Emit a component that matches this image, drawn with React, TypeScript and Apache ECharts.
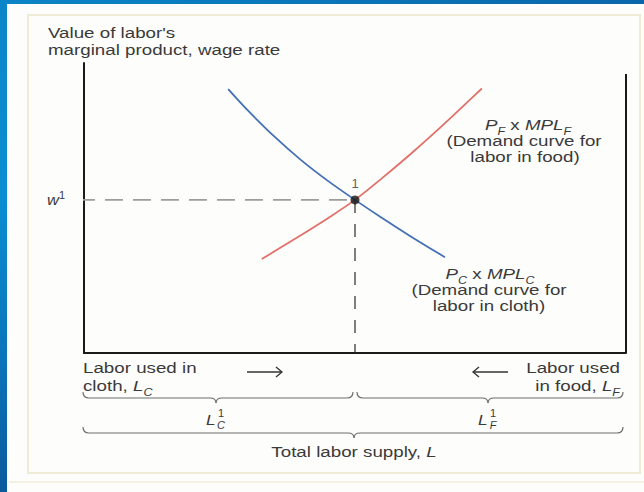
import React, { useEffect, useRef } from "react";
import * as echarts from "echarts";

// ---- data (labor units 0..100 on the horizontal axis, wage index 0..100 on the vertical) ----
const X_MIN = 0;
const X_MAX = 100;
const Y_MIN = 0;
const Y_MAX = 100;
const LC1 = 50; // labor used in cloth at equilibrium
const W1 = 52.8; // equilibrium wage
const RIGHT_AXIS_TOP = 96.2; // top of the food-origin axis
const W_TICK_START = -1.3; // dashed wage line starts a little left of the axis

// P_F x MPL_F (demand for labor in food, measured from the right)
const foodX = [32.8, 35, 40, 45, 50, 55, 60, 65, 70, 73.4];
const foodY = [32.4, 34.9, 40.6, 46.5, 52.8, 60.3, 68.2, 76.5, 85.2, 91.2];
// P_C x MPL_C (demand for labor in cloth)
const clothX = [26.6, 30, 35, 40, 45, 50, 55, 60, 65, 66.6];
const clothY = [91, 84.1, 74.85, 66.6, 59.35, 52.8, 46.55, 40.55, 34.8, 33.0];

const AXIS_TITLE = ["Value of labor's", "marginal product, wage rate"];
const FOOD_LABEL = ["{i|P}{sub|F}{n| x }{i|MPL}{sub|F}", "(Demand curve for", "labor in food)"];
const CLOTH_LABEL = ["{i|P}{sub|C}{n| x }{i|MPL}{sub|C}", "(Demand curve for", "labor in cloth)"];
const LEFT_FOOT = ["Labor used in", "cloth, {i|L}{sub|C}"];
const RIGHT_FOOT = ["Labor used", "in food, {i|L}{sub|F}"];
const TOTAL_LABEL = "Total labor supply, {i|L}";

const FONT = "'Liberation Sans', Arial, Helvetica, sans-serif";
const TEXT_COLOR = "#3a3a3a";
const SX = 1.25;
const FS = 15;

const RICH: any = {
  n: { fontSize: FS, fontFamily: FONT, fill: TEXT_COLOR, color: TEXT_COLOR },
  i: { fontSize: FS, fontFamily: FONT, fontStyle: "italic", fill: TEXT_COLOR, color: TEXT_COLOR },
  sub: {
    fontSize: 10,
    fontFamily: FONT,
    fontStyle: "italic",
    fill: TEXT_COLOR,
    color: TEXT_COLOR,
    padding: [12, 0, 0, 0],
  },
  sup: { fontSize: 10, fontFamily: FONT, fill: TEXT_COLOR, color: TEXT_COLOR, padding: [0, 0, 9, 0] },
  isub: { fontSize: 10, fontFamily: FONT, fontStyle: "italic", fill: TEXT_COLOR, color: TEXT_COLOR },
};

function txt(x: number, y: number, text: string, align: string, scale = SX, size = FS) {
  return {
    type: "text",
    x,
    y,
    scaleX: scale,
    silent: true,
    z: 10,
    style: {
      text,
      align,
      textAlign: align,
      verticalAlign: "middle",
      textVerticalAlign: "middle",
      fontSize: size,
      fontFamily: FONT,
      fill: TEXT_COLOR,
      rich: RICH,
    },
  };
}

const BRACE_STYLE = { stroke: "#6e6e6e", lineWidth: 1.2, fill: "none" };

function brace(xa: number, xb: number, y0: number, mid: number) {
  const r = 6;
  const y1 = y0 + 6;
  const y2 = y1 + 5;
  const s = BRACE_STYLE;
  return [
    { type: "bezierCurve", silent: true, shape: { x1: xa, y1: y0, cpx1: xa, cpy1: y1, x2: xa + r, y2: y1 }, style: s },
    { type: "line", silent: true, shape: { x1: xa + r, y1: y1, x2: mid - r, y2: y1 }, style: s },
    { type: "bezierCurve", silent: true, shape: { x1: mid - r, y1: y1, cpx1: mid, cpy1: y1, x2: mid, y2: y2 }, style: s },
    { type: "bezierCurve", silent: true, shape: { x1: mid, y1: y2, cpx1: mid, cpy1: y1, x2: mid + r, y2: y1 }, style: s },
    { type: "line", silent: true, shape: { x1: mid + r, y1: y1, x2: xb - r, y2: y1 }, style: s },
    { type: "bezierCurve", silent: true, shape: { x1: xb - r, y1: y1, cpx1: xb, cpy1: y1, x2: xb, y2: y0 }, style: s },
  ];
}

function arrow(xa: number, xb: number, y: number, dir: 1 | -1) {
  const s = { stroke: "#333", lineWidth: 1.3, fill: "none" };
  const tip = dir === 1 ? xb : xa;
  return [
    { type: "line", silent: true, shape: { x1: xa, y1: y, x2: xb, y2: y }, style: s },
    {
      type: "polyline",
      silent: true,
      shape: { points: [[tip - dir * 6, y - 5], [tip, y], [tip - dir * 6, y + 5]] },
      style: s,
    },
  ];
}

export default function App() {
  const ref = useRef<HTMLDivElement>(null);

  useEffect(() => {
    document.body.style.margin = "0";
    if (!ref.current) return;
    const chart = echarts.init(ref.current, null, { renderer: "svg" });

    const food = foodX.map((x, i) => [x, foodY[i]]);
    const cloth = clothX.map((x, i) => [x, clothY[i]]);

    const hiddenAxis = {
      type: "value",
      axisLine: { show: true, onZero: false, lineStyle: { color: "#1a1a1a", width: 2 } },
      axisTick: { show: false },
      axisLabel: { show: false },
      splitLine: { show: false },
    };

    chart.setOption({
      animation: false,
      backgroundColor: "#fdfdfb",
      grid: { left: 84, right: 18, top: 63, bottom: 139 },
      xAxis: { ...hiddenAxis, min: X_MIN, max: X_MAX },
      yAxis: { ...hiddenAxis, min: Y_MIN, max: Y_MAX },
      series: [
        {
          type: "line",
          data: food,
          smooth: 0.3,
          symbol: "none",
          lineStyle: { color: "#e2706a", width: 1.8 },
          z: 3,
        },
        {
          type: "line",
          data: cloth,
          smooth: 0.3,
          symbol: "none",
          lineStyle: { color: "#4370b5", width: 1.8 },
          z: 3,
        },
        {
          type: "line",
          data: [
            [W_TICK_START, W1],
            [LC1, W1],
          ],
          clip: false,
          symbol: "none",
          lineStyle: { color: "#9c9c9c", width: 1.6, type: [18, 10] },
          z: 2,
        },
        {
          type: "line",
          data: [
            [LC1, W1],
            [LC1, Y_MIN],
          ],
          symbol: "none",
          lineStyle: { color: "#2a2a2a", width: 1.2, type: [13, 11] },
          z: 2,
        },
        {
          type: "line",
          data: [
            [X_MAX, Y_MIN],
            [X_MAX, RIGHT_AXIS_TOP],
          ],
          symbol: "none",
          lineStyle: { color: "#1a1a1a", width: 2 },
          z: 2,
        },
        {
          type: "scatter",
          data: [[LC1, W1]],
          symbol: "circle",
          symbolSize: 9,
          itemStyle: { color: "#151515" },
          label: {
            show: true,
            formatter: "1",
            position: "top",
            distance: 5,
            fontSize: 13,
            fontFamily: FONT,
            color: "#333",
          },
          z: 5,
        },
      ],
    });

    const p0 = chart.convertToPixel({ gridIndex: 0 }, [X_MIN, Y_MIN]) as number[];
    const pm = chart.convertToPixel({ gridIndex: 0 }, [LC1, W1]) as number[];
    const p1 = chart.convertToPixel({ gridIndex: 0 }, [X_MAX, Y_MIN]) as number[];
    const xa = p0[0] - 1;
    const xm = pm[0];
    const xb = p1[0] - 3;
    const midL = (xa + xm) / 2 - 3;
    const midR = (xm + 2 + xb) / 2 - 2;

    const graphic: any[] = [
      // slide backdrop
      {
        type: "rect",
        silent: true,
        z: 0,
        shape: { x: 0, y: 0, width: 644, height: 4 },
        style: {
          fill: new echarts.graphic.LinearGradient(0, 0, 1, 0, [
            { offset: 0, color: "#0b84c8" },
            { offset: 1, color: "#0a66aa" },
          ]),
        },
      },
      {
        type: "rect",
        silent: true,
        z: 0,
        shape: { x: 0, y: 0, width: 7, height: 492 },
        style: {
          fill: new echarts.graphic.LinearGradient(0, 0, 0, 1, [
            { offset: 0, color: "#0a86c8" },
            { offset: 0.4, color: "#0a8ed2" },
            { offset: 0.75, color: "#0a72b8" },
            { offset: 1, color: "#0a5a9c" },
          ]),
        },
      },
      {
        type: "rect",
        silent: true,
        z: 0,
        shape: { x: 28, y: 15, width: 612, height: 458 },
        style: { fill: "none", stroke: "#f0ebd6", lineWidth: 2 },
      },
      {
        type: "line",
        silent: true,
        z: 0,
        shape: { x1: 9, y1: 482, x2: 644, y2: 482 },
        style: { stroke: "#f4f0e2", lineWidth: 2 },
      },
      // axis title
      txt(48, 33, AXIS_TITLE[0], "left"),
      txt(48, 50, AXIS_TITLE[1], "left"),
      // w1 label
      txt(p0[0] - 19, pm[1], "{i|w}{sup|1}", "right", 1.1),
      // curve labels
      txt(528, 125, FOOD_LABEL[0], "center"),
      txt(524, 141, FOOD_LABEL[1], "center"),
      txt(525, 157, FOOD_LABEL[2], "center"),
      txt(490, 274, CLOTH_LABEL[0], "center"),
      txt(489, 290, CLOTH_LABEL[1], "center"),
      txt(489, 306, CLOTH_LABEL[2], "center"),
      // bottom descriptions
      txt(xa, 368, LEFT_FOOT[0], "left"),
      txt(xa, 386, LEFT_FOOT[1], "left"),
      txt(xb - 3, 368, RIGHT_FOOT[0], "right"),
      txt(xb - 3, 386, RIGHT_FOOT[1], "right"),
      ...arrow(247, 282, 372, 1),
      ...arrow(473, 508, 372, -1),
      ...brace(xa, xm - 2, 392, midL),
      ...brace(xm + 2, xb, 392, midR),
      ...brace(xa, xb, 427, xm - 1),
      // L_C^1 and L_F^1
      txt(midL - 10, 419, "{i|L}", "left", 1.15),
      txt(midL + 5, 413, "1", "center", 1.1, 10),
      txt(midL + 5, 425, "{isub|C}", "center", 1.1, 10),
      txt(midR - 10, 419, "{i|L}", "left", 1.15),
      txt(midR + 5, 413, "1", "center", 1.1, 10),
      txt(midR + 5, 425, "{isub|F}", "center", 1.1, 10),
      txt(xm - 1, 452, TOTAL_LABEL, "center"),
    ];

    chart.setOption({ graphic });

    return () => {
      chart.dispose();
    };
  }, []);

  return (
    <div
      ref={ref}
      style={{ position: "fixed", left: 0, top: 0, width: 644, height: 492 }}
    />
  );
}
